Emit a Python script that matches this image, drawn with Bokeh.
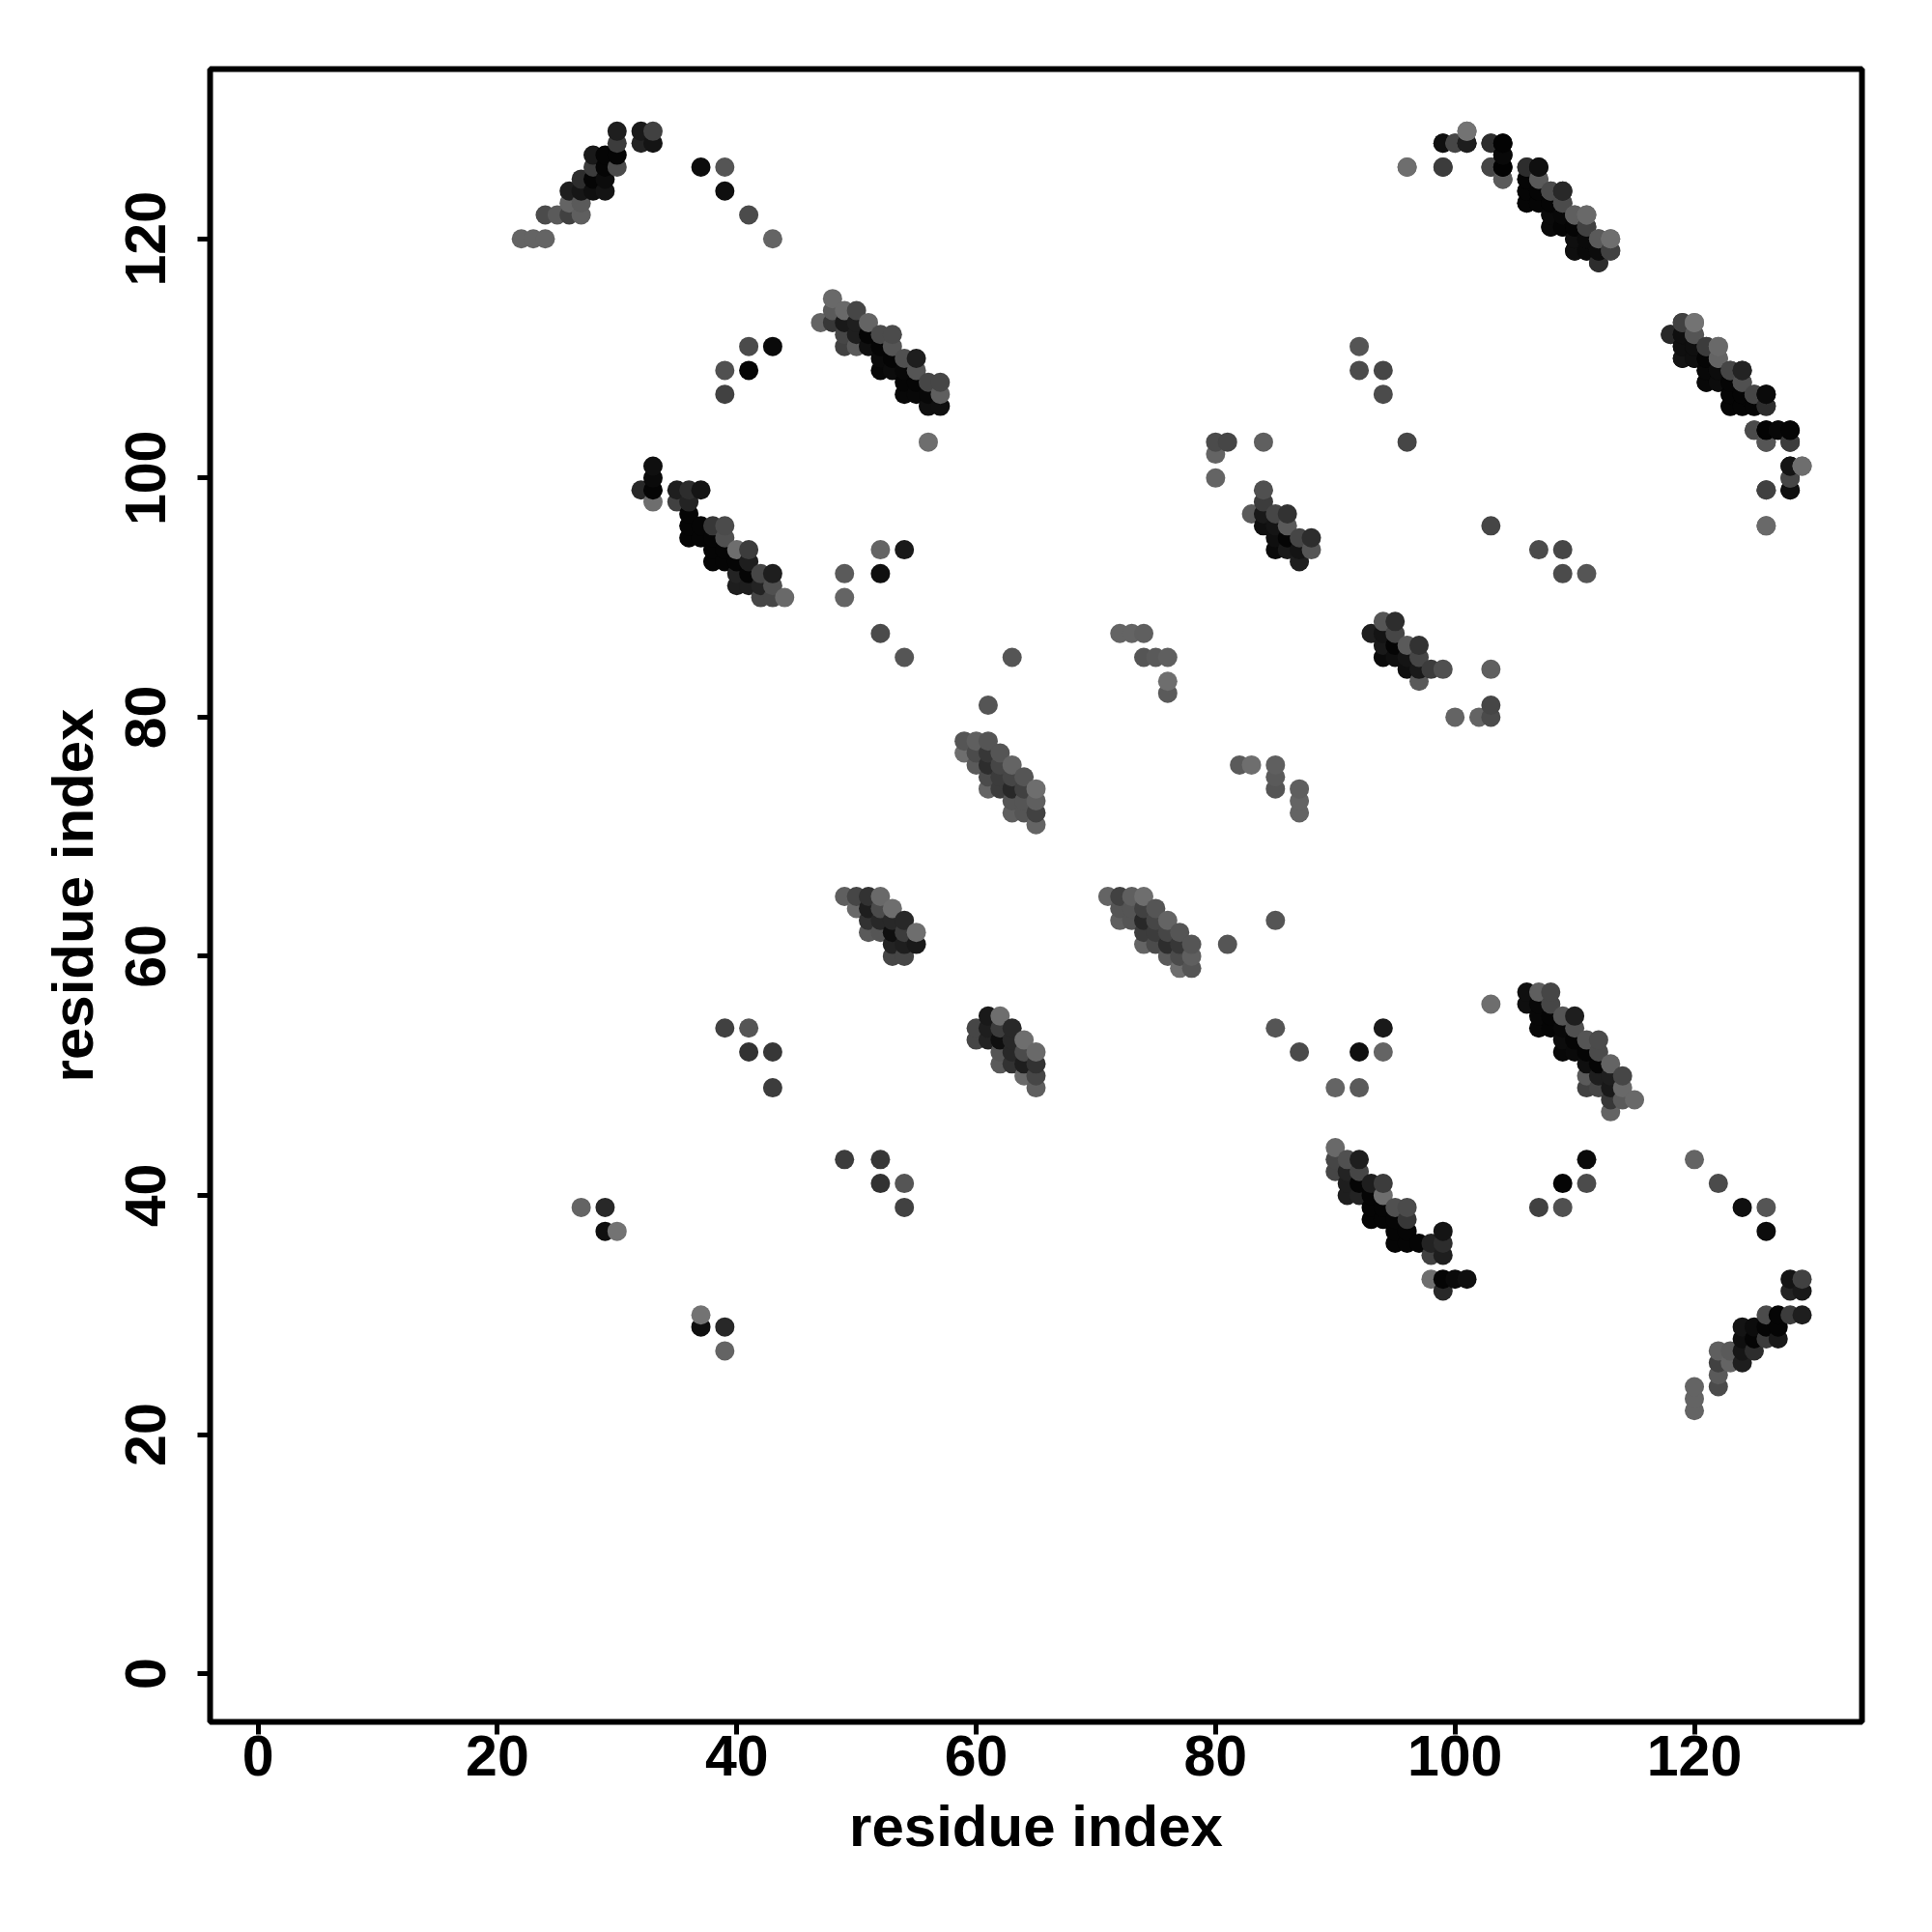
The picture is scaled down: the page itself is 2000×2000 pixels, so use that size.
from bokeh.plotting import figure
from bokeh.models import ColumnDataSource, FixedTicker, Range1d
from bokeh.embed import file_html
from bokeh.resources import INLINE

# Contacts: (residue i, residue j, grey level 0-255).
# The map is symmetric, each contact is shown at (i, j) and (j, i).
sheet_a = [
    (22,120,100),(23,120,100),(24,120,100),(24,122,75),(25,122,90),(26,122,65),(27,122,95),
    (26,123,100),(27,123,90),(26,124,30),(27,124,22),(28,124,15),(29,124,20),(27,125,45),
    (28,125,5),(29,125,12),(28,126,60),(29,126,5),(30,126,75),(28,127,25),(29,127,5),(30,127,5),
    (30,128,60),(30,129,30),(32,129,25),(33,129,65),(32,128,35),(33,128,20),
]
sheet_a_extra = [(37,126,12),(39,126,85),(39,124,15),(41,122,75),(43,120,100)]
sheet_b = [
    (48,115,105),(48,114,90),(49,114,105),(50,114,70),(47,113,100),(48,113,55),(49,113,25),
    (50,113,30),(51,113,100),(49,112,70),(50,112,30),(51,112,5),(52,112,75),(53,112,75),
    (49,111,65),(50,111,90),(51,111,15),(52,111,5),(53,111,85),(52,110,10),(53,110,5),(54,110,80),
    (55,110,30),(52,109,8),(53,109,12),(54,109,8),(55,109,85),(54,108,5),(55,108,5),(56,108,70),
    (57,108,70),(54,107,8),(55,107,8),(56,107,8),(57,107,95),(56,106,15),(57,106,15),
]
sheet_b_extra = [(41,111,75),(43,111,10),(39,109,80),(41,109,5),(39,107,65),(56,103,110)]
sheet_c = [
    (33,101,15),(33,100,10),(32,99,40),(33,99,5),(33,98,110),(35,99,30),(36,99,45),(37,99,20),
    (35,98,65),(36,98,35),(36,97,5),(36,96,5),(37,96,5),(38,96,55),(39,96,75),(36,95,5),(37,95,5),
    (38,95,5),(39,95,80),(38,94,5),(39,94,5),(40,94,110),(41,94,60),(38,93,5),(39,93,5),(40,93,5),
    (41,93,30),(40,92,35),(41,92,5),(42,92,70),(43,92,30),(40,91,30),(41,91,30),(42,91,35),
    (43,91,80),(42,90,70),(43,90,70),(44,90,105),
]
sheet_c_extra = [(52,94,100),(54,94,25),(49,92,90),(52,92,15),(49,90,100),(52,87,75),(54,85,85)]
sheet_d = [
    (99,128,15),(100,128,70),(101,128,20),(101,129,110),(103,128,60),(104,128,5),(104,127,8),
    (103,126,85),(104,126,3),(104,125,75),(106,126,45),(107,126,10),(106,125,5),(107,125,70),
    (106,124,5),(107,124,5),(108,124,80),(109,124,35),(106,123,5),(107,123,5),(108,123,5),
    (109,123,70),(108,122,12),(109,122,12),(110,122,100),(111,122,105),(108,121,8),(109,121,8),
    (110,121,5),(111,121,60),(110,120,15),(111,120,15),(112,120,85),(113,120,115),(110,119,20),
    (111,119,15),(112,119,15),(113,119,65),(112,118,40),
]
sheet_d_extra = [(96,126,105),(99,126,65)]
sheet_e = [
    (118,112,45),(119,113,65),(120,113,110),(119,112,12),(120,112,90),(119,111,10),(120,111,10),
    (121,111,65),(122,111,105),(119,110,15),(120,110,15),(121,110,5),(122,110,95),(121,109,5),
    (122,109,8),(123,109,75),(124,109,40),(121,108,10),(122,108,10),(123,108,5),(124,108,75),
    (123,107,5),(124,107,5),(125,107,90),(126,107,15),(123,106,5),(124,106,5),(125,106,5),
    (126,106,45),(125,104,90),(126,104,2),(127,104,8),(128,104,3),(126,103,70),(128,103,45),
    (128,101,30),(129,101,115),(128,100,70),(128,99,15),(126,99,60),(126,96,110),
]
sheet_e_extra = [(92,111,85),(92,109,75),(94,109,70),(94,107,75),(96,103,70)]
sheet_f = [(80,100,100),(80,102,100),(80,103,75),(81,103,70),(84,103,95)]
sheet_g = [
    (84,99,80),(84,98,60),(83,97,90),(84,97,25),(85,97,70),(86,97,50),(84,96,15),(85,96,20),
    (86,96,90),(85,95,15),(86,95,5),(87,95,70),(88,95,45),(85,94,10),(86,94,25),(87,94,20),
    (88,94,85),(87,93,30),
]
sheet_h = [(72,87,100),(73,87,100),(74,87,95),(74,85,85),(75,85,90),(76,85,95),(76,83,110),
           (76,82,90),(61,81,85),(63,85,85)]
helix_i = [
    (59,78,85),(60,78,95),(61,78,85),(59,77,110),(60,77,75),(61,77,55),(62,77,85),(60,76,90),
    (61,76,45),(62,76,70),(63,76,100),(61,75,75),(62,75,60),(63,75,70),(64,75,85),(61,74,100),
    (62,74,60),(63,74,40),(64,74,65),(65,74,110),(63,73,85),(64,73,85),(65,73,95),(63,72,95),
    (64,72,85),(65,72,65),(65,71,100),
]
helix_j = [
    (49,65,95),(50,65,70),(51,65,50),(52,65,105),(50,64,105),(51,64,30),(52,64,75),(53,64,110),
    (51,63,50),(52,63,40),(53,63,40),(54,63,40),(51,62,90),(52,62,85),(53,62,15),(54,62,60),
    (55,62,110),(53,61,35),(54,61,30),(55,61,25),(53,60,70),(54,60,70),
]
scattered = [(39,54,65),(41,54,85),(41,52,50),(43,52,55),(43,49,60),(27,39,100),(29,39,40),
             (29,37,15),(30,37,115)]

x_ticks = [0, 20, 40, 60, 80, 100, 120]
y_ticks = [0, 20, 40, 60, 80, 100, 120]
x_title = "residue index"
y_title = "residue index"

groups = [sheet_a, sheet_a_extra, sheet_b, sheet_b_extra, sheet_c, sheet_c_extra, sheet_d,
          sheet_d_extra, sheet_e, sheet_e_extra, sheet_f, sheet_g, sheet_h, helix_i, helix_j,
          scattered]
contacts = [c for g in groups for c in g]
both = contacts + [(j, i, s) for i, j, s in contacts]
both.sort(key=lambda c: (c[0], c[1]))   # later columns and higher rows lie on top

src = ColumnDataSource(dict(
    x=[c[0] for c in both],
    y=[c[1] for c in both],
    color=["#%02x%02x%02x" % (c[2], c[2], c[2]) for c in both],
))

FONT = "Liberation Sans"
p = figure(width=1984, height=1984, output_backend="svg", toolbar_location=None,
           x_range=Range1d(-4.0, 134.0), y_range=Range1d(-4.03, 134.2),
           min_border_left=217, min_border_right=57, min_border_top=71, min_border_bottom=202,
           background_fill_color="white", border_fill_color="white")
p.scatter("x", "y", source=src, size=20, fill_color="color", line_color=None, marker="circle")

p.grid.visible = False
p.outline_line_color = "black"
p.outline_line_width = 6
p.outline_line_alpha = 1

for ax, ticks, title in ((p.xaxis[0], x_ticks, x_title), (p.yaxis[0], y_ticks, y_title)):
    ax.ticker = FixedTicker(ticks=ticks)
    ax.axis_label = title
    ax.axis_label_text_font = FONT
    ax.axis_label_text_font_style = "bold"
    ax.axis_label_text_font_size = "60px"
    ax.axis_label_text_color = "black"
    ax.major_label_text_font = FONT
    ax.major_label_text_font_style = "bold"
    ax.major_label_text_font_size = "59px"
    ax.major_label_text_color = "black"
    ax.major_tick_line_color = "black"
    ax.major_tick_line_width = 5
    ax.major_tick_out = 13
    ax.major_tick_in = 0
    ax.minor_tick_line_color = None
    ax.axis_line_color = None
p.yaxis[0].major_label_orientation = "parallel"
p.xaxis[0].major_label_standoff = 1
p.yaxis[0].major_label_standoff = 33
p.xaxis[0].axis_label_standoff = 16
p.yaxis[0].axis_label_standoff = 19

open("out.html", "w").write(file_html(p, INLINE))
